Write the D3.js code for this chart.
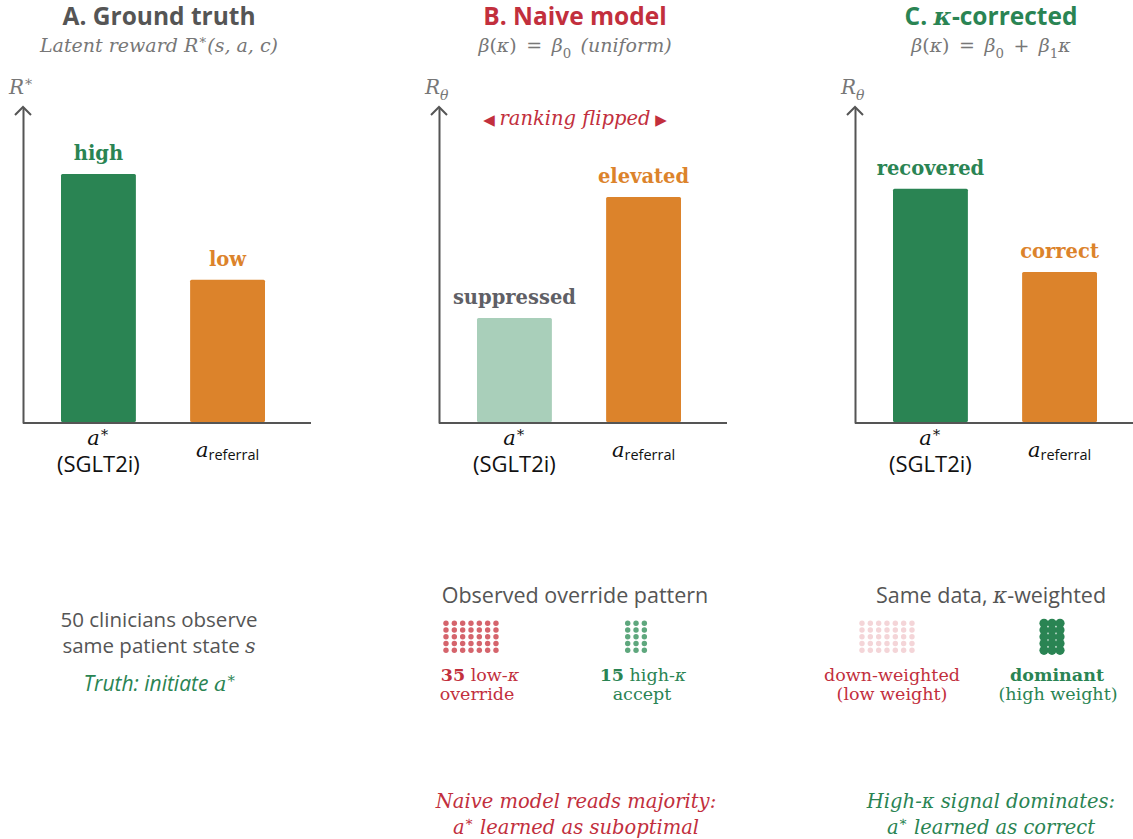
<!DOCTYPE html>
<html>
<head>
<meta charset="utf-8">
<script src="https://cdn.jsdelivr.net/npm/d3@7"></script>
<style>
  body { margin: 0; background: #fff; }
  svg { display: block; }
</style>
</head>
<body>
<svg id="chart" width="1133" height="839"></svg>
<script>
// ---- data ----
const categories = ["astar", "aref"];
const truthValues = [0.788, 0.453];
const naiveValues = [0.332, 0.715];
const correctedValues = [0.741, 0.478];
const truthLabels = ["high", "low"];
const naiveLabels = ["suppressed", "elevated"];
const correctedLabels = ["recovered", "correct"];
const lowKappaCount = 35;
const highKappaCount = 15;
const lowKappaCols = 7;
const highKappaCols = 3;

const GREEN = "#2a8453", ORANGE = "#dc832b", LIGHTGREEN = "#a9cfba",
      RED = "#c22f3d", GREY = "#555", SUBGREY = "#777";
const SERIF = "'DejaVu Serif', 'Liberation Serif', serif";
const SANS = "'Open Sans', Lato, sans-serif";
const SP = "\u2002";

const svg = d3.select("#chart");

// kinds: i italic serif, r roman serif, rb bold serif, s sans, si sans italic, sub / isub / sup
const kindStyle = {
  i:    { font: SERIF, italic: true },
  r:    { font: SERIF },
  rb:   { font: SERIF, bold: true },
  s:    { font: SANS },
  si:   { font: SANS, italic: true },
  sub:  { font: SERIF, shift: 0.3, small: true },
  isub: { font: SERIF, italic: true, shift: 0.3, small: true },
  sup:  { font: SERIF, shift: -0.4, small: true }
};

function richText(g, x, y, parts, opts) {
  opts = opts || {};
  const size = opts.size || 18;
  const t = g.append("text")
    .attr("x", x).attr("y", y)
    .attr("text-anchor", opts.anchor || "middle")
    .attr("fill", opts.fill || GREY)
    .attr("font-size", size);
  let shift = 0;
  parts.forEach(([txt, kind]) => {
    const k = kindStyle[kind];
    const target = (k.shift || 0) * size;
    const ts = t.append("tspan").text(txt)
      .attr("font-family", k.font)
      .attr("dy", target - shift);
    shift = target;
    if (k.small) ts.attr("font-size", size * 0.7);
    if (k.italic) ts.attr("font-style", "italic");
    if (k.bold) ts.attr("font-weight", "bold");
  });
  return t;
}

const panels = [
  { x0: 23, title: [["A. Ground truth", "s"]], titleColor: GREY,
    sub: [["Latent reward ", "i"], ["R", "i"], ["∗", "sup"], ["(s, a, c)", "i"]],
    ylab: [["R", "i"], ["∗", "sup"]],
    values: truthValues, labels: truthLabels,
    barColors: [GREEN, ORANGE], labelColors: [GREEN, ORANGE] },
  { x0: 439, title: [["B. Naive model", "s"]], titleColor: RED,
    sub: [["β", "i"], ["(", "r"], ["κ", "i"], [")" + SP + "=" + SP, "r"], ["β", "i"], ["0", "sub"], [SP + "(uniform)", "i"]],
    ylab: [["R", "i"], ["θ", "isub"]],
    values: naiveValues, labels: naiveLabels,
    barColors: [LIGHTGREEN, ORANGE], labelColors: ["#5f5f66", ORANGE] },
  { x0: 855, title: [["C. ", "s"], ["κ", "i"], ["-corrected", "s"]], titleColor: GREEN,
    sub: [["β", "i"], ["(", "r"], ["κ", "i"], [")" + SP + "=" + SP, "r"], ["β", "i"], ["0", "sub"], [SP + "+" + SP, "r"], ["β", "i"], ["1", "sub"], ["κ", "i"]],
    ylab: [["R", "i"], ["θ", "isub"]],
    values: correctedValues, labels: correctedLabels,
    barColors: [GREEN, ORANGE], labelColors: [GREEN, ORANGE] }
];

const axisLen = 288, center = 136;
const y = d3.scaleLinear().domain([0, 1]).range([423, 107]);
const x = d3.scaleBand().domain(categories).range([38, 242]).paddingInner(0.42).paddingOuter(0);

panels.forEach((p, pi) => {
  const g = svg.append("g").attr("transform", "translate(" + p.x0 + ",0)");

  // title + subtitle
  richText(g, center, 25, p.title, { size: 24.5, fill: p.titleColor })
    .attr("font-weight", "bold");
  richText(g, center, 52, p.sub, { size: 19, fill: SUBGREY });

  // y axis with arrow
  g.append("g").call(d3.axisLeft(y).ticks(0).tickSize(0).tickSizeOuter(0))
    .call(a => a.select(".domain").attr("stroke", GREY).attr("stroke-width", 2));
  g.append("path")
    .attr("d", "M-8," + (y(1) + 8) + " Q-3," + (y(1) + 3) + " 0," + y(1) + " Q3," + (y(1) + 3) + " 8," + (y(1) + 8))
    .attr("fill", "none").attr("stroke", GREY).attr("stroke-width", 2);
  richText(g, -14, 94, p.ylab, { size: 20, fill: SUBGREY, anchor: "start" });

  // x axis
  g.append("line").attr("x1", 0).attr("x2", axisLen).attr("y1", y(0)).attr("y2", y(0))
    .attr("stroke", GREY).attr("stroke-width", 2);

  // bars
  g.selectAll("rect.bar").data(p.values).enter().append("rect")
    .attr("class", "bar")
    .attr("x", (d, i) => x(categories[i]))
    .attr("y", d => y(d))
    .attr("width", x.bandwidth())
    .attr("height", d => y(0) - y(d) - 1)
    .attr("rx", 1.5)
    .attr("fill", (d, i) => p.barColors[i]);

  g.selectAll("text.blab").data(p.values).enter().append("text")
    .attr("class", "blab")
    .attr("x", (d, i) => x(categories[i]) + x.bandwidth() / 2)
    .attr("y", d => y(d) - 14)
    .attr("text-anchor", "middle")
    .attr("font-family", SERIF).attr("font-weight", "bold").attr("font-size", 19.5)
    .attr("fill", (d, i) => p.labelColors[i])
    .text((d, i) => p.labels[i]);

  // category labels
  const c0 = x(categories[0]) + x.bandwidth() / 2, c1 = x(categories[1]) + x.bandwidth() / 2;
  richText(g, c0, 445, [["a", "i"], ["∗", "sup"]], { size: 21, fill: "#111" });
  g.append("text").attr("x", c0).attr("y", 472).attr("text-anchor", "middle")
    .attr("font-family", SANS).attr("font-size", 22).attr("fill", "#111").text("(SGLT2i)");
  const tr = g.append("text").attr("x", c1).attr("y", 457).attr("text-anchor", "middle").attr("fill", "#111");
  tr.append("tspan").attr("font-family", SERIF).attr("font-style", "italic").attr("font-size", 21).text("a");
  tr.append("tspan").attr("font-family", SANS).attr("font-size", 14.5).attr("dy", 3).text("referral");

  if (pi === 1) {
    g.append("text").attr("x", center).attr("y", 125).attr("text-anchor", "middle")
      .attr("fill", RED).attr("font-size", 19.5)
      .call(t => {
        t.append("tspan").attr("font-family", "'DejaVu Sans', sans-serif").attr("font-size", 15).text("◀ ");
        t.append("tspan").attr("font-family", SERIF).attr("font-style", "italic").text("ranking flipped");
        t.append("tspan").attr("font-family", "'DejaVu Sans', sans-serif").attr("font-size", 15).text(" ▶");
      });
  }
});

// ---- lower section ----
// panel A notes
richText(svg, 159, 627, [["50 clinicians observe", "s"]], { size: 20.5, fill: GREY });
richText(svg, 159, 653, [["same patient state ", "s"], ["s", "i"]], { size: 20.5, fill: GREY });
richText(svg, 160, 691, [["Truth: initiate ", "si"], ["a", "i"], ["∗", "sup"]], { size: 21, fill: GREEN });

// dot grids
function dotGrid(x0, count, cols, r, dx, color) {
  const idx = d3.range(count);
  svg.append("g").selectAll("circle").data(idx).enter().append("circle")
    .attr("cx", i => x0 + (i % cols) * dx)
    .attr("cy", i => 623.3 + Math.floor(i / cols) * 6.75)
    .attr("r", r)
    .attr("fill", color);
}

// panel B
richText(svg, 575, 603, [["Observed override pattern", "s"]], { size: 21.5, fill: GREY });
dotGrid(446, lowKappaCount, lowKappaCols, 2.7, 8.33, "#d5646c");
dotGrid(627.7, highKappaCount, highKappaCols, 2.7, 8.33, "#5ea77d");
richText(svg, 480, 681, [[String(lowKappaCount), "rb"], [" low-", "r"], ["κ", "i"]], { size: 17.5, fill: RED });
richText(svg, 477, 700, [["override", "r"]], { size: 17.5, fill: RED });
richText(svg, 643, 681, [[String(highKappaCount), "rb"], [" high-", "r"], ["κ", "i"]], { size: 17.5, fill: GREEN });
richText(svg, 642, 700, [["accept", "r"]], { size: 17.5, fill: GREEN });

// panel C
richText(svg, 991, 603, [["Same data, ", "s"], ["κ", "i"], ["-weighted", "s"]], { size: 21.5, fill: GREY });
dotGrid(862, lowKappaCount, lowKappaCols, 2.7, 8.33, "#f4d5d8");
dotGrid(1044, highKappaCount, highKappaCols, 4.6, 8, GREEN);
richText(svg, 892, 681, [["down-weighted", "r"]], { size: 17.5, fill: RED });
richText(svg, 892, 700, [["(low weight)", "r"]], { size: 17.5, fill: RED });
richText(svg, 1057, 681, [["dominant", "rb"]], { size: 17.5, fill: GREEN });
richText(svg, 1058, 700, [["(high weight)", "r"]], { size: 17.5, fill: GREEN });

// conclusions
richText(svg, 576, 808, [["Naive model reads majority:", "i"]], { size: 19.5, fill: RED });
richText(svg, 576, 834, [["a", "i"], ["∗", "sup"], [" learned as suboptimal", "i"]], { size: 19.5, fill: RED });
richText(svg, 991, 808, [["High-", "i"], ["κ", "i"], [" signal dominates:", "i"]], { size: 19.5, fill: GREEN });
richText(svg, 991, 834, [["a", "i"], ["∗", "sup"], [" learned as correct", "i"]], { size: 19.5, fill: GREEN });
</script>
</body>
</html>
